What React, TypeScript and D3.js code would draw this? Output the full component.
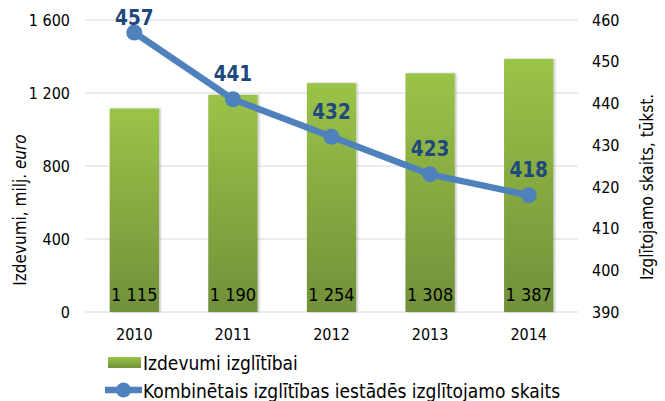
import React from "react";
import * as d3 from "d3";

const years = ["2010", "2011", "2012", "2013", "2014"];
const spending = [1115, 1190, 1254, 1308, 1387];
const pupils = [457, 441, 432, 423, 418];
const leftTicks = [0, 400, 800, 1200, 1600];
const rightTicks = [390, 400, 410, 420, 430, 440, 450, 460];
const barLabels = ["1 115", "1 190", "1 254", "1 308", "1 387"];
const legendLabels = ["Izdevumi izglītībai", "Kombinētais izglītības iestādēs izglītojamo skaits"];
const leftTitle = "Izdevumi, milj. ";
const leftTitleItalic = "euro";
const rightTitle = "Izglītojamo skaits, tūkst.";

const W = 665;
const H = 401;
const FONT = "Tahoma, 'DejaVu Sans Condensed', 'Liberation Sans', sans-serif";
const fmt = (v: number) => d3.format(",")(v).replace(/,/g, " ");

export default function App() {
  const x = d3.scaleBand<string>().domain(years).range([85, 578]).paddingInner(0.5).paddingOuter(0.25);
  const yL = d3.scaleLinear().domain([0, 1600]).range([312, 20]);
  const yR = d3.scaleLinear().domain([390, 460]).range([312, 20]);
  const cx = (y: string) => (x(y) ?? 0) + x.bandwidth() / 2;
  const line = d3
    .line<number>()
    .x((_, i) => cx(years[i]))
    .y((d) => yR(d));

  return (
    <svg
      width={W}
      height={H}
      style={{ position: "fixed", left: 0, top: 0, display: "block", background: "#fff" }}
      fontFamily={FONT}
    >
      <defs>
        <linearGradient id="barGrad" x1="0" y1="0" x2="0" y2="1">
          <stop offset="0" stopColor="#9bc348" />
          <stop offset="1" stopColor="#71903a" />
        </linearGradient>
        <filter id="sh" x="-20%" y="-5%" width="140%" height="110%">
          <feDropShadow dx="1.5" dy="0" stdDeviation="1" floodColor="#000" floodOpacity="0.25" />
        </filter>
      </defs>
      {/* gridlines */}
      {leftTicks.map((t) => (
        <line key={t} x1={85} x2={578} y1={yL(t)} y2={yL(t)} stroke="#d9d9d9" strokeWidth={1} />
      ))}
      {/* left ticks */}
      {leftTicks.map((t) => (
        <text key={t} x={70} y={yL(t)} dy="0.36em" textAnchor="end" fontSize={16} fill="#000">
          {fmt(t)}
        </text>
      ))}
      {/* right ticks */}
      {rightTicks.map((t) => (
        <text key={t} x={592} y={yR(t)} dy="0.36em" textAnchor="start" fontSize={16} fill="#000">
          {t}
        </text>
      ))}
      {/* bars */}
      {spending.map((v, i) => (
        <rect
          key={years[i]}
          x={x(years[i])}
          y={yL(v)}
          width={x.bandwidth()}
          height={yL(0) - yL(v)}
          fill="url(#barGrad)"
          filter="url(#sh)"
        />
      ))}
      {/* bar labels */}
      {spending.map((v, i) => (
        <text key={years[i]} x={cx(years[i])} y={300.5} textAnchor="middle" fontSize={18} fill="#000">
          {barLabels[i]}
        </text>
      ))}
      {/* x labels */}
      {years.map((y) => (
        <text key={y} x={cx(y)} y={340} textAnchor="middle" fontSize={16} fill="#000">
          {y}
        </text>
      ))}
      {/* line */}
      <path d={line(pupils) ?? ""} fill="none" stroke="#4f81bd" strokeWidth={6.5} strokeLinejoin="round" />
      {pupils.map((v, i) => (
        <circle key={years[i]} cx={cx(years[i])} cy={yR(v)} r={8} fill="#4f81bd" />
      ))}
      {pupils.map((v, i) => (
        <text
          key={years[i]}
          x={cx(years[i])}
          y={Math.max(yR(v) - 18, 25)}
          textAnchor="middle"
          fontSize={20.5}
          fontWeight="bold"
          fill="#1f497d"
        >
          {v}
        </text>
      ))}
      {/* axis titles */}
      <text transform={`translate(26,210) rotate(-90)`} textAnchor="middle" fontSize={17} fill="#000">
        {leftTitle}
        <tspan fontStyle="italic">{leftTitleItalic}</tspan>
      </text>
      <text transform={`translate(653,187) rotate(-90)`} textAnchor="middle" fontSize={17} fill="#000">
        {rightTitle}
      </text>
      {/* legend */}
      <rect x={108} y={357} width={33} height={11} fill="url(#barGrad)" />
      <text x={143} y={369.5} fontSize={19} fill="#000">
        {legendLabels[0]}
      </text>
      <line x1={105} x2={142} y1={390} y2={390} stroke="#4f81bd" strokeWidth={6.5} />
      <circle cx={123.5} cy={390} r={7.5} fill="#4f81bd" />
      <text x={143} y={397.5} fontSize={19} fill="#000">
        {legendLabels[1]}
      </text>
    </svg>
  );
}
